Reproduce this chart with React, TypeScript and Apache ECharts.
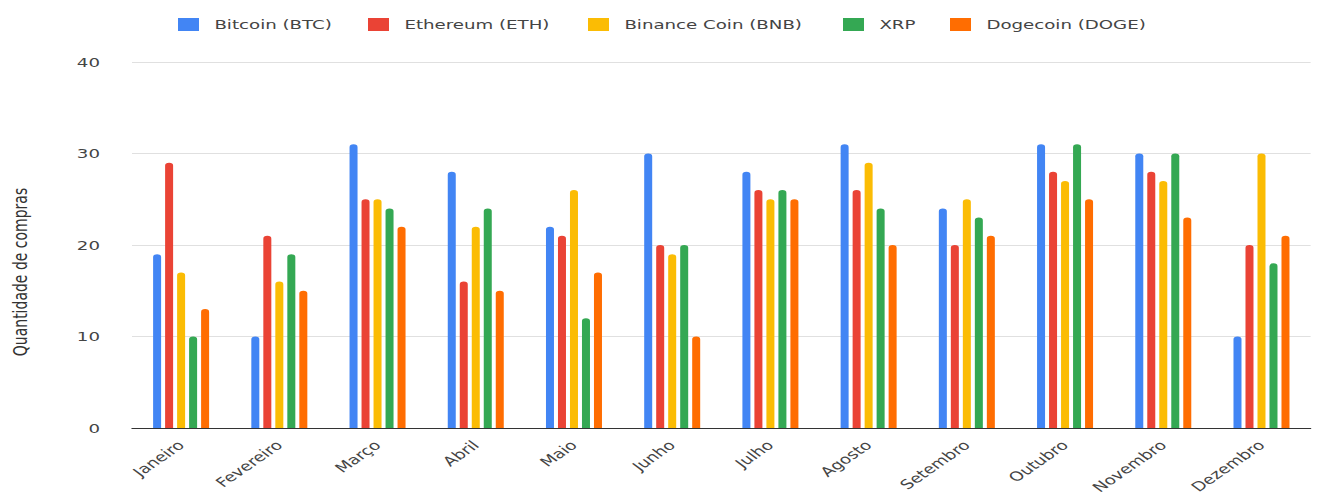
import React, { useEffect, useRef } from "react";
import * as echarts from "echarts";

const months = ["Janeiro", "Fevereiro", "Março", "Abril", "Maio", "Junho", "Julho", "Agosto", "Setembro", "Outubro", "Novembro", "Dezembro"];
const seriesNames = ["Bitcoin (BTC)", "Ethereum (ETH)", "Binance Coin (BNB)", "XRP", "Dogecoin (DOGE)"];
const colors = ["#4285F4", "#EA4335", "#FBBC04", "#34A853", "#FF6D01"];
const btc = [19, 10, 31, 28, 22, 30, 28, 31, 24, 31, 30, 10];
const eth = [29, 21, 25, 16, 21, 20, 26, 26, 20, 28, 28, 20];
const bnb = [17, 16, 25, 22, 26, 19, 25, 29, 25, 27, 27, 30];
const xrp = [10, 19, 24, 24, 12, 20, 26, 24, 23, 31, 30, 18];
const doge = [13, 15, 22, 15, 17, 10, 25, 20, 21, 25, 23, 21];
const allData = [btc, eth, bnb, xrp, doge];
const yTicks = [0, 10, 20, 30, 40];

// The reference is horizontally stretched; render narrower and stretch on screen.
const STRETCH = 1.4;
const OUTER_W = 1308;
const OUTER_H = 487;
const px = (v: number) => v / STRETCH; // screen px -> chart units (horizontal)

const legendLeft = [170, 360, 580, 835, 942];
const FONT = "DejaVu Sans, Verdana, sans-serif";

export default function App() {
  const ref = useRef<HTMLDivElement>(null);
  useEffect(() => {
    if (!ref.current) return;
    const chart = echarts.init(ref.current, undefined, { renderer: "svg" });
    chart.setOption({
      animation: false,
      color: colors,
      legend: seriesNames.map((name, i) => ({
        data: [name],
        left: px(legendLeft[i]) - 5,
        top: 5,
        itemWidth: 15,
        itemHeight: 13,
        icon: "rect",
        textStyle: { fontFamily: FONT, fontSize: 13, color: "#444", padding: [0, 0, 0, 6] },
      })),
      grid: { left: px(124), right: px(5), top: 54, bottom: 67, outerBoundsMode: "none", containLabel: false },
      xAxis: {
        type: "category",
        data: months,
        axisLine: { lineStyle: { color: "#333", width: 1 } },
        axisTick: { show: false },
        axisLabel: {
          rotate: 44,
          interval: 0,
          fontSize: 13,
          color: "#444",
          margin: 15,
          fontFamily: FONT,
        },
      },
      yAxis: {
        type: "value",
        min: yTicks[0],
        max: yTicks[yTicks.length - 1],
        interval: 10,
        name: "Quantidade de compras",
        nameLocation: "middle",
        nameGap: 73,
        nameTextStyle: { fontSize: 14, color: "#333", fontFamily: FONT, padding: [0, 54, 0, 0] },
        axisLine: { show: false },
        axisTick: { show: false },
        splitLine: { lineStyle: { color: "#e0e0e0" } },
        axisLabel: { fontSize: 13, color: "#444", margin: px(32), fontFamily: FONT },
      },
      series: seriesNames.map((name, i) => ({
        name,
        type: "bar",
        data: allData[i],
        barWidth: px(8),
        barGap: "50%",
        itemStyle: { borderRadius: [3, 3, 0, 0] },
      })),
    });
    return () => chart.dispose();
  }, []);
  return (
    <div style={{ position: "absolute", left: 8, top: 8, width: OUTER_W, height: OUTER_H, overflow: "hidden" }}>
      <div
        ref={ref}
        style={{
          width: OUTER_W / STRETCH,
          height: OUTER_H,
          transform: `scaleX(${STRETCH})`,
          transformOrigin: "0 0",
        }}
      />
    </div>
  );
}
